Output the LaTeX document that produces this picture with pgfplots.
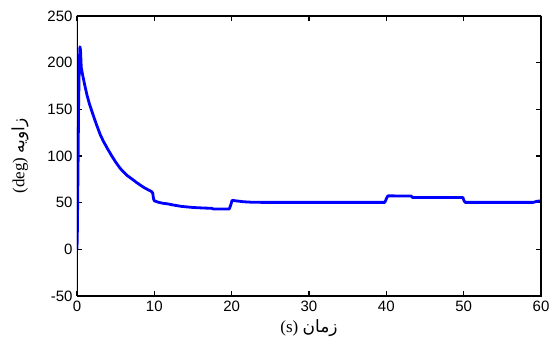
\documentclass[border=0pt]{standalone}
\usepackage{fontspec}
\usepackage{pgfplots}
\pgfplotsset{compat=1.18}
\setmainfont{Liberation Serif}
\setsansfont{Liberation Sans}
\newfontfamily\arabicfont[Script=Arabic]{DejaVu Sans}
\TeXXeTstate=1
\begin{document}
\begin{tikzpicture}
\begin{axis}[
  name=ax,
  scale only axis,
  width=464pt, height=280pt,
  xmin=0, xmax=60, ymin=-50, ymax=250,
  xtick={0,10,...,60}, ytick={-50,0,...,250},
  tick align=inside,
  major tick length=5pt,
  tick style={black, line width=1.2pt},
  /pgf/number format/assume math mode=true,
  tick label style={font=\fontsize{15}{18}\selectfont\sffamily},
  xticklabel style={yshift=-1pt},
  yticklabel style={xshift=-1pt},
  xlabel={(s) {\arabicfont\beginR زمان\endR}},
  ylabel={(deg) {\arabicfont\beginR زاویه\endR}},
  every axis x label/.style={at={(axis description cs:0.5,-0.114)}, anchor=center, font=\fontsize{17}{20}\selectfont},
  every axis y label/.style={at={(axis description cs:-0.123,0.5)}, rotate=90, anchor=center, font=\fontsize{17}{20}\selectfont},
]
\addplot[color={rgb,255:red,0;green,0;blue,255}, line width=2.8pt, line join=round] coordinates {
(0,0) (0.05,20) (0.1,60) (0.15,100) (0.2,150) (0.25,175) (0.3,200) (0.38,217)
(0.45,214) (0.55,195) (0.7,188) (1.0,176) (1.3,165) (1.6,156) (2.0,146)
(2.46,135) (3.0,123) (3.4,116) (4.0,107) (4.5,100) (5.0,93.5) (5.56,87) (6.0,83)
(6.5,79) (7.0,76) (7.72,71.5) (8.15,69) (8.7,66) (9.2,63.8) (9.66,61.8)
(9.8,60) (9.9,54) (10.0,52) (10.5,50.5) (11.0,49.5) (11.8,48.6) (12.45,47.5)
(13.5,46) (15.04,44.8) (16.5,44.2) (17.4,44) (17.6,43.3) (19.7,43.3)
(19.9,48) (20.05,52.5) (20.5,52) (21.5,51) (22.5,50.5) (24,50.3) (39.8,50.3)
(40.05,55) (40.2,57.3) (43.2,57.1) (43.4,55.5) (49.9,55.5) (50.05,52)
(50.2,50.3) (59.0,50.3) (59.5,51.5) (60,52)
};
\draw[black, line width=2pt] (rel axis cs:0,0) rectangle (rel axis cs:1,1);
\end{axis}
\pgfresetboundingbox
\path (ax.south west) ++(-77pt,-53pt) coordinate (bl);
\path (ax.north east) ++(16pt,16pt) coordinate (tr);
\path (bl) rectangle (tr);
\end{tikzpicture}
\end{document}
